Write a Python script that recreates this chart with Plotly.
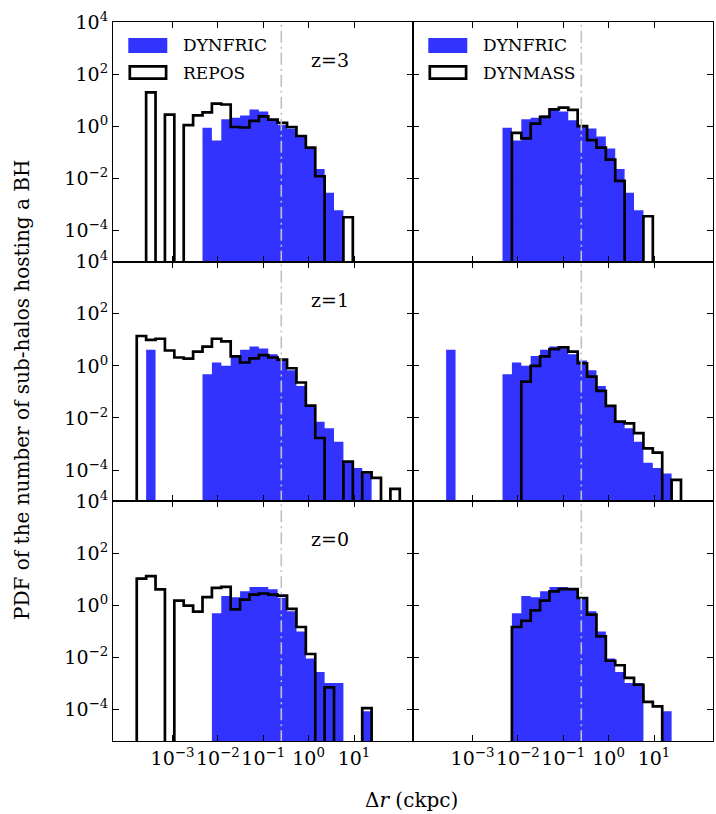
import numpy as np
import plotly.graph_objects as go

# ---------------- data ----------------
# common logarithmic bins in Delta r (ckpc)
bin_edges = np.logspace(-3.787, 2.009, 29)

# z = 3
z3_dynfric = [0, 0, 0, 0, 0, 0, 0, 0.87, 0.28, 1.86, 2.1, 2.6, 4.4, 3.7, 1.7, 1.1,
              0.81, 0.40, 0.14, 0.023, 2.8e-3, 5.9e-4, 0, 0, 0, 0, 0, 0]
z3_repos = [0, 20, 0, 2.8, 0, 1.1, 2.6, 3.4, 7.4, 6.8, 0.93, 0.89, 1.6, 2.4, 1.8, 1.35,
            0.93, 0.42, 0.15, 0.012, 0, 0, 3.2e-4, 0, 0, 0, 0, 0]
z3_dynmass = [0, 0, 0, 0, 0, 0, 0, 0, 0.55, 0.34, 1.26, 2.3, 4.4, 5.2, 4.2, 1.0,
              0.29, 0.15, 0.052, 7.9e-3, 0, 0, 3.5e-4, 0, 0, 0, 0, 0]
# z = 1
z1_dynfric = [0, 4.2, 0, 0, 0, 0, 0, 0.48, 1.35, 1.0, 2.4, 4.2, 5.5, 4.6, 2.8, 1.6,
              0.68, 0.17, 0.029, 7.2e-3, 4.0e-3, 1.23e-3, 1.9e-4, 1.2e-4, 7.4e-5, 0, 0, 0]
z1_repos = [14, 10, 11, 3.9, 2.1, 1.9, 3.5, 5.5, 11, 8.7, 2.3, 1.35, 1.95, 2.6, 2.1, 1.75,
            0.81, 0.23, 0.030, 1.7e-3, 0, 0, 2.1e-4, 0, 8.1e-5, 5.0e-5, 0, 1.9e-5]
z1_dynmass = [0, 0, 0, 0, 0, 0, 0, 0, 0, 0.25, 1.0, 2.3, 4.4, 5.1, 3.5, 1.26,
              0.39, 0.11, 0.029, 7.2e-3, 6.2e-3, 2.6e-3, 6.8e-4, 4.7e-4, 0, 4.2e-5, 0, 0]
# z = 0
z0_dynfric = [0, 0, 0, 0, 0, 0, 0, 0, 0.50, 2.3, 2.1, 3.5, 5.2, 5.2, 4.2, 2.0,
              0.60, 0.10, 9.3e-3, 2.8e-3, 1.07e-3, 1.07e-3, 0, 0, 8.7e-5, 0, 0, 0]
z0_repos = [10.7, 13.5, 4.2, 0, 1.55, 1.0, 0.58, 2.1, 4.8, 5.2, 0.71, 1.7, 2.6, 2.9, 2.6, 2.4,
            0.74, 0.15, 0.0138, 0, 7.2e-4, 0, 0, 0, 1.15e-4, 0, 0, 0]
z0_dynmass = [0, 0, 0, 0, 0, 0, 0, 0, 0.15, 0.26, 0.65, 1.55, 3.5, 4.3, 4.3, 1.95,
              0.45, 0.066, 7.6e-3, 5.1e-3, 1.66e-3, 9.1e-4, 2.0e-4, 1.35e-4, 0, 0, 0, 0]

redshift_labels = ["z=3", "z=1", "z=0"]
fill_series = [z3_dynfric, z1_dynfric, z0_dynfric]
left_series = [z3_repos, z1_repos, z0_repos]
right_series = [z3_dynmass, z1_dynmass, z0_dynmass]
ref_radius = 0.25  # ckpc, vertical reference line

x_tickvals = [1e-3, 1e-2, 1e-1, 1e0, 1e1]
x_ticktext = ["10<sup>−3</sup>", "10<sup>−2</sup>", "10<sup>−1</sup>", "10<sup>0</sup>", "10<sup>1</sup>"]
y_tickvals = [1e-4, 1e-2, 1e0, 1e2, 1e4]
y_ticktext = ["10<sup>−4</sup>", "10<sup>−2</sup>", "10<sup>0</sup>", "10<sup>2</sup>", "10<sup>4</sup>"]

# ---------------- styling ----------------
BLUE = "rgb(51,51,255)"
FONT = "DejaVu Serif"
FLOOR = 1e-12
XR = [-4.31, 2.30]
YR = [-5.2, 4.0]


def step_path(edges, vals):
    xs = [edges[0]]
    ys = [FLOOR]
    for i, v in enumerate(vals):
        y = v if v > 0 else FLOOR
        xs += [edges[i], edges[i + 1]]
        ys += [y, y]
    xs.append(edges[-1])
    ys.append(FLOOR)
    return xs, ys


fig = go.Figure()
layout = {}
for r in range(3):
    for c in range(2):
        i = r * 2 + c + 1
        sx = "" if i == 1 else str(i)
        xa, ya = "x" + sx, "y" + sx
        bx, by = step_path(bin_edges, fill_series[r])
        fig.add_trace(go.Scatter(x=bx, y=by, mode="lines", fill="toself",
                                 fillcolor=BLUE, line=dict(width=0, color=BLUE),
                                 xaxis=xa, yaxis=ya, hoverinfo="skip", showlegend=False))
        other = left_series[r] if c == 0 else right_series[r]
        ox, oy = step_path(bin_edges, other)
        fig.add_trace(go.Scatter(x=ox, y=oy, mode="lines",
                                 line=dict(width=2.7, color="black", simplify=False),
                                 xaxis=xa, yaxis=ya, hoverinfo="skip", showlegend=False))
        fig.add_trace(go.Scatter(x=[ref_radius, ref_radius], y=[FLOOR, 1e12], mode="lines",
                                 line=dict(width=1.6, color="#c0c0c0", dash="12px,4px,2px,4px"),
                                 xaxis=xa, yaxis=ya, hoverinfo="skip", showlegend=False))
        common = dict(type="log", ticks="inside", ticklen=6, tickwidth=1.3, tickcolor="black",
                      showline=True, linecolor="black", linewidth=1.2, mirror="ticks",
                      showgrid=False, zeroline=False, tickangle=0,
                      tickfont=dict(family=FONT, size=19, color="black"))
        layout["xaxis" + sx] = dict(common, range=XR, domain=[c * 0.5, (c + 1) * 0.5], anchor=ya,
                                    tickvals=x_tickvals, ticktext=x_ticktext,
                                    showticklabels=(r == 2))
        layout["yaxis" + sx] = dict(common, range=YR, domain=[(2 - r) / 3, (3 - r) / 3], anchor=xa,
                                    tickvals=y_tickvals, ticktext=y_ticktext,
                                    showticklabels=(c == 0))

fig.update_layout(**layout)

shapes = []
annotations = []
for c, name in enumerate(["REPOS", "DYNMASS"]):
    sx = "" if c == 0 else "2"
    xr, yr = "x" + sx + " domain", "y" + sx + " domain"
    shapes.append(dict(type="rect", xref=xr, yref=yr, x0=0.051, x1=0.181, y0=0.871, y1=0.933,
                       fillcolor=BLUE, line=dict(width=0)))
    shapes.append(dict(type="rect", xref=xr, yref=yr, x0=0.056, x1=0.177, y0=0.764, y1=0.815,
                       fillcolor="white", line=dict(color="black", width=2.7)))
    annotations.append(dict(text="DYNFRIC", xref=xr, yref=yr, x=0.228, y=0.902, xanchor="left",
                            yanchor="middle", showarrow=False,
                            font=dict(family=FONT, size=17, color="black")))
    annotations.append(dict(text=name, xref=xr, yref=yr, x=0.228, y=0.789, xanchor="left",
                            yanchor="middle", showarrow=False,
                            font=dict(family=FONT, size=17, color="black")))

for r, lab in enumerate(redshift_labels):
    i = r * 2 + 1
    sx = "" if i == 1 else str(i)
    annotations.append(dict(text=lab, xref="x" + sx + " domain", yref="y" + sx + " domain",
                            x=0.724, y=0.841, xanchor="center", yanchor="middle", showarrow=False,
                            font=dict(family=FONT, size=19, color="black")))

annotations.append(dict(text="PDF of the number of sub-halos hosting a BH", xref="paper", yref="paper",
                        x=-0.152, y=0.488, textangle=-90, xanchor="center", yanchor="middle",
                        showarrow=False, font=dict(family=FONT, size=20, color="black")))
annotations.append(dict(text="Δ<i>r</i> (ckpc)", xref="paper", yref="paper",
                        x=0.498, y=-0.082, xanchor="center", yanchor="middle",
                        showarrow=False, font=dict(family=FONT, size=20, color="black")))

fig.update_layout(width=716, height=814, margin=dict(l=113, r=3, t=22, b=73, pad=0),
                  paper_bgcolor="white", plot_bgcolor="white", showlegend=False,
                  shapes=shapes, annotations=annotations)

fig.write_html("out.html")
